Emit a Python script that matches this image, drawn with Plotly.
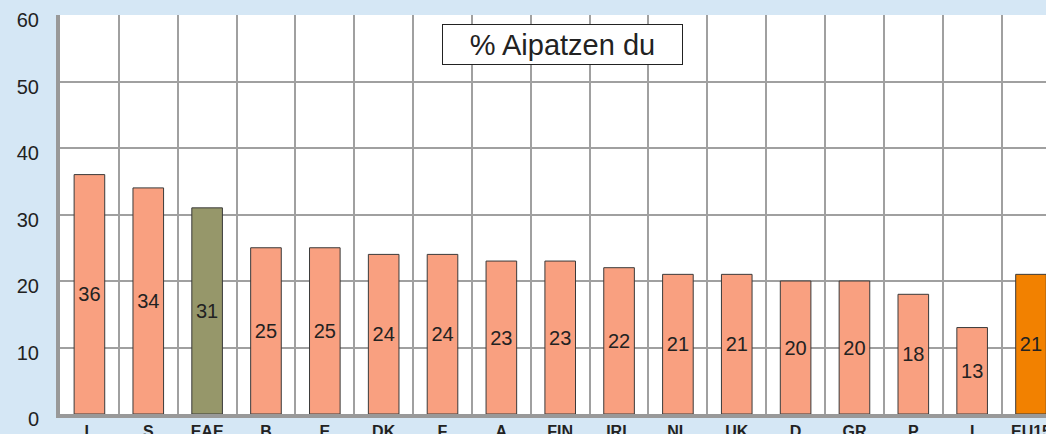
import plotly.graph_objects as go

categories = ["L", "S", "EAE", "B", "E", "DK", "F", "A", "FIN", "IRL",
              "NL", "UK", "D", "GR", "P", "I", "EU15"]
values = [36, 34, 31, 25, 25, 24, 24, 23, 23, 22, 21, 21, 20, 20, 18, 13, 21]
bar_colors = ["#F9A080", "#F9A080", "#96976A"] + ["#F9A080"] * 13 + ["#F28100"]
y_ticks = [0, 10, 20, 30, 40, 50, 60]
title_text = "% Aipatzen du"

W, H = 1046, 434
ML, MR, MT, MB = 60, 0, 15, 20

fig = go.Figure(go.Bar(
    x=categories, y=values,
    marker=dict(color=bar_colors, line=dict(color="#3a3a3a", width=1)),
    width=0.52,
    text=[str(v) for v in values],
    textposition="inside", insidetextanchor="middle",
    textfont=dict(family="Liberation Sans, Arial", size=20, color="#222222"),
    textangle=0,
    cliponaxis=True,
))

pw = W - ML - MR
ph = H - MT - MB

fig.update_layout(
    width=W, height=H,
    margin=dict(l=ML, r=MR, t=MT, b=MB, autoexpand=False),
    paper_bgcolor="#D5E7F5", plot_bgcolor="#FFFFFF",
    showlegend=False,
    font=dict(family="Liberation Sans, Arial", color="#222222"),
    xaxis=dict(
        type="category", range=[-0.5, 16.255], automargin=False,
        tickson="boundaries", showgrid=True, gridcolor="#A0A0A0", gridwidth=1.5,
        showline=True, linecolor="#999999", linewidth=4,
        ticks="", tickfont=dict(size=16, family="Liberation Sans, Arial", color="#222222"),
        ticklabelstandoff=0, tickprefix="<b>", ticksuffix="</b>",
        fixedrange=True,
    ),
    yaxis=dict(
        range=[0, 60], tickvals=y_ticks, ticktext=[str(t) for t in y_ticks],
        automargin=False,
        showgrid=True, gridcolor="#A0A0A0", gridwidth=1.5,
        showline=True, linecolor="#999999", linewidth=4,
        ticks="", ticklabelstandoff=13, ticklabelshift=5,
        tickfont=dict(size=20, family="Liberation Sans, Arial", color="#222222"),
        zeroline=False, fixedrange=True,
    ),
    annotations=[dict(
        text=title_text,
        x=(442 - ML) / pw, y=1 - (24 - MT) / ph, xref="paper", yref="paper",
        xanchor="left", yanchor="top",
        showarrow=False,
        font=dict(size=29, family="Liberation Sans, Arial", color="#222222"),
        bordercolor="#222222", borderwidth=1, bgcolor="#FFFFFF",
        width=233, height=33, borderpad=3, align="center", valign="middle",
    )],
)

fig.write_html(
    "out.html",
    config={"displayModeBar": False},
    post_script="document.body.style.margin='0';document.body.style.overflow='hidden';",
)
